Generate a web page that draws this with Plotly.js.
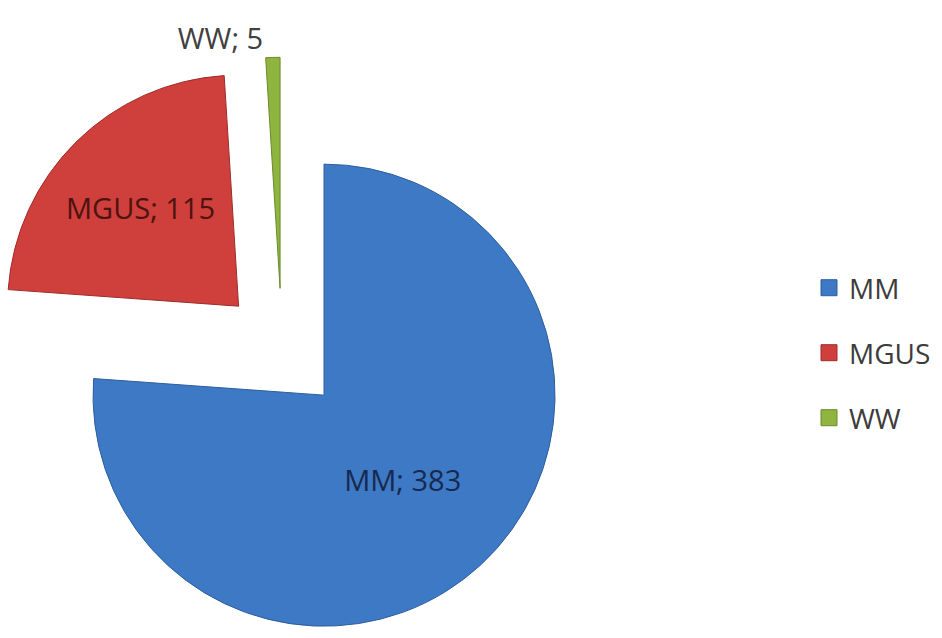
<!DOCTYPE html>
<html>
<head>
<meta charset="utf-8">
<script src="https://cdn.plot.ly/plotly-3.0.1.min.js"></script>
<style>
html,body{margin:0;padding:0;overflow:hidden;width:942px;height:638px;background:#fff;}
#chart{position:absolute;left:-12px;top:0;width:954px;height:660px;}
</style>
</head>
<body>
<div id="chart"></div>
<script>
const labels = ["MM", "MGUS", "WW"];
const values = [383, 115, 5];
const colors = ["#3d79c5", "#cf3f3b", "#8fb43f"];
const lineColors = ["#2d5e9c", "#9e2d2a", "#6a8a2c"];
const textColors = ["#172a4e", "#4d1311", "#404040"];
const positions = ["inside", "inside", "outside"];

const FONT = "Open Sans, sans-serif";

const pie = {
  type: "pie",
  labels: labels,
  values: values,
  sort: false,
  direction: "clockwise",
  rotation: 0,
  pull: [0.267, 0.267, 0.267],
  marker: {colors: colors, line: {color: lineColors, width: 1}},
  texttemplate: "%{label}; %{value}",
  textposition: positions,
  insidetextorientation: "horizontal",
  textfont: {family: FONT, size: 29, color: textColors},
  outsidetextfont: {family: FONT, size: 29, color: "#404040"},
  hoverinfo: "label+value",
  domain: {x: [0.00136, 0.615], y: [0.0262, 0.9132]},
  showlegend: false
};

// legend entries, one per category, built from the same arrays
const legendTraces = labels.map((lab, i) => ({
  type: "scatter",
  mode: "markers",
  x: [null],
  y: [null],
  name: lab,
  legendgroup: "g" + i,
  showlegend: true,
  hoverinfo: "skip",
  marker: {symbol: "square", size: 16, color: colors[i], line: {color: lineColors[i], width: 1}}
}));

const layout = {
  width: 954,
  height: 660,
  margin: {l: 0, r: 0, t: 0, b: 0},
  paper_bgcolor: "#ffffff",
  plot_bgcolor: "rgba(0,0,0,0)",
  xaxis: {visible: false, domain: [0.9, 1]},
  yaxis: {visible: false, domain: [0.9, 1]},
  showlegend: true,
  legend: {
    x: 0.8606, y: 0.6015, xanchor: "left", yanchor: "top",
    traceorder: "grouped",
    tracegroupgap: 25.6,
    font: {family: FONT, size: 28, color: "#3c3c3c"},
    bgcolor: "rgba(0,0,0,0)"
  }
};

Plotly.newPlot("chart", [pie].concat(legendTraces), layout, {displayModeBar: false, staticPlot: true});
</script>
</body>
</html>
